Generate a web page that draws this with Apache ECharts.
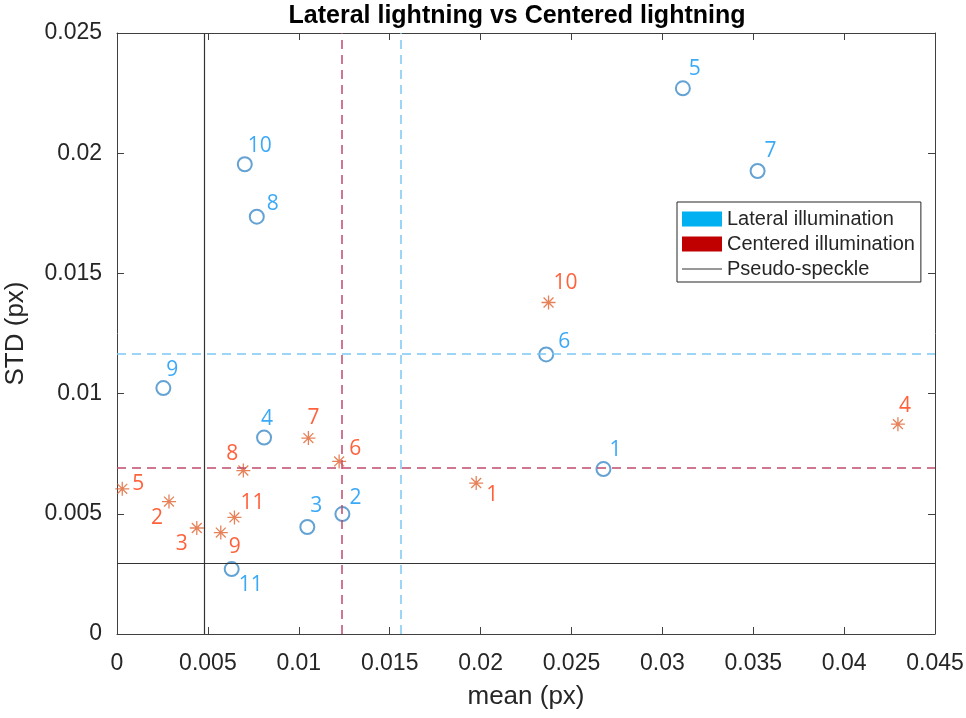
<!DOCTYPE html>
<html>
<head>
<meta charset="utf-8">
<script src="https://cdn.jsdelivr.net/npm/echarts@6/dist/echarts.min.js"></script>
<style>
html,body{margin:0;padding:0;background:#fff;}
#chart{width:966px;height:718px;}
</style>
</head>
<body>
<div id="chart"></div>
<script>
// ---- Data ----
const pointLabels = ['1','2','3','4','5','6','7','8','9','10','11'];
const lateralX   = [0.02676, 0.01240, 0.01047, 0.00809, 0.03113, 0.02361, 0.03524, 0.00769, 0.00255, 0.00703, 0.00631];
const lateralY   = [0.00686, 0.00499, 0.00445, 0.00817, 0.02270, 0.01163, 0.01926, 0.01736, 0.01023, 0.01954, 0.00270];
const centeredX  = [0.01976, 0.00286, 0.00439, 0.04296, 0.00029, 0.01222, 0.01053, 0.00695, 0.00571, 0.02374, 0.00646];
const centeredY  = [0.00628, 0.00551, 0.00441, 0.00873, 0.00604, 0.00718, 0.00815, 0.00680, 0.00422, 0.01379, 0.00485];
const lateralMean   = [0.01560, 0.01165];   // [mean x, mean y]
const centeredMean  = [0.01234, 0.00691];
const pseudoSpeckle = [0.00480, 0.00295];
const xTicks = [0, 0.005, 0.01, 0.015, 0.02, 0.025, 0.03, 0.035, 0.04, 0.045];
const yTicks = [0, 0.005, 0.01, 0.015, 0.02, 0.025];
const seriesNames = ['Lateral illumination', 'Centered illumination', 'Pseudo-speckle'];

// ---- Layout of point labels (pixel offsets from marker) ----
const lateralLabelOffsets  = [[12,-19],[13,-16],[9,-21],[3,-19],[12,-19],[18,-12],[13,-20],[16,-13],[9,-18],[15,-18],[19,16]];
const centeredLabelOffsets = [[16,12],[-12,16],[-15,16],[7,-18],[16,-5],[16,-12],[5,-20],[-11,-17],[14,14],[17,-19],[18,-14]];

const AX = '#262626';
const fmt = v => String(+v.toFixed(3));

function pts(xs, ys, offs) {
  return xs.map((x, i) => ({
    value: [x, ys[i]],
    name: pointLabels[i],
    label: { offset: offs[i] }
  }));
}
const asterisk = 'path://M0,-10L0,10M-10,0L10,0M-7.07,-7.07L7.07,7.07M-7.07,7.07L7.07,-7.07';

const chart = echarts.init(document.getElementById('chart'), null, {renderer: 'canvas'});
const axisCommon = {
  type: 'value',
  axisLine: { show: true, onZero: false, lineStyle: { color: '#404040', width: 1 } },
  axisTick: { show: true, inside: true, length: 7, lineStyle: { color: '#404040', width: 1 } },
  splitLine: { show: false }
};
chart.setOption({
  backgroundColor: '#fff',
  animation: false,
  title: {
    text: 'Lateral lightning vs Centered lightning',
    left: 517, top: 4, padding: 0, textAlign: 'center',
    textStyle: { fontFamily: 'Liberation Sans', fontWeight: 'bold', fontSize: 25, color: '#000' }
  },
  grid: { left: 117, right: 31, top: 33, bottom: 84, containLabel: false, outerBoundsMode: 'none' },
  legend: {
    orient: 'vertical', left: 677, top: 202,
    itemWidth: 40, itemHeight: 15, itemGap: 5,
    padding: [7, 6, 3, 5],
    borderColor: '#262626', borderWidth: 1, backgroundColor: '#fff',
    textStyle: { fontFamily: 'Liberation Sans', fontSize: 20, color: '#262626' },
    data: [
      { name: seriesNames[0], icon: 'rect', itemStyle: { color: '#00B0F0', borderWidth: 0, opacity: 1 } },
      { name: seriesNames[1], icon: 'rect', itemStyle: { color: '#C00000', borderWidth: 0, opacity: 1 } },
      { name: seriesNames[2], icon: 'path://M0,0H40V1.1H0Z', itemStyle: { color: '#333', borderWidth: 0, opacity: 1 } }
    ]
  },
  xAxis: [
    Object.assign({}, axisCommon, {
      position: 'bottom', min: xTicks[0], max: xTicks[xTicks.length-1], interval: xTicks[1]-xTicks[0],
      name: 'mean (px)', nameLocation: 'middle', nameGap: 50,
      nameTextStyle: { fontFamily: 'Liberation Sans', fontSize: 26, color: AX },
      axisLabel: { fontFamily: 'Liberation Sans', fontSize: 23, color: AX, margin: 18, formatter: fmt }
    }),
    Object.assign({}, axisCommon, {
      position: 'top', min: xTicks[0], max: xTicks[xTicks.length-1], interval: xTicks[1]-xTicks[0],
      axisLabel: { show: false }
    })
  ],
  yAxis: [
    Object.assign({}, axisCommon, {
      position: 'left', min: yTicks[0], max: yTicks[yTicks.length-1], interval: yTicks[1]-yTicks[0],
      name: 'STD (px)', nameLocation: 'middle', nameGap: 88,
      nameTextStyle: { fontFamily: 'Liberation Sans', fontSize: 26, color: AX },
      axisLabel: { fontFamily: 'Liberation Sans', fontSize: 23, color: AX, margin: 15, formatter: fmt }
    }),
    Object.assign({}, axisCommon, {
      position: 'right', min: yTicks[0], max: yTicks[yTicks.length-1], interval: yTicks[1]-yTicks[0],
      axisLabel: { show: false }
    })
  ],
  series: [
    {
      name: seriesNames[2], type: 'line', data: [], symbol: 'none',
      lineStyle: { color: '#333', width: 1.2 },
      itemStyle: { color: '#333' },
      z: 1,
      markLine: {
        silent: true, symbol: 'none', precision: 6, label: { show: false },
        lineStyle: { color: '#333', width: 1.2, type: 'solid' },
        data: [{ xAxis: pseudoSpeckle[0] }, { yAxis: pseudoSpeckle[1] }]
      }
    },
    {
      name: seriesNames[0], type: 'scatter',
      symbol: 'emptyCircle', symbolSize: 14,
      itemStyle: { color: '#3D8BC8', borderWidth: 1.5 },
      label: { show: true, position: 'inside', formatter: '{b}', fontFamily: 'Open Sans', fontSize: 21, color: '#0A94F5', align: 'center', verticalAlign: 'middle' },
      data: pts(lateralX, lateralY, lateralLabelOffsets),
      z: 3,
      markLine: {
        silent: true, symbol: 'none', precision: 6, label: { show: false },
        lineStyle: { color: '#7CC8F2', width: 1.5, type: [9, 6] },
        data: [{ xAxis: lateralMean[0] }, { yAxis: lateralMean[1] }]
      }
    },
    {
      name: seriesNames[1], type: 'scatter',
      symbol: asterisk, symbolSize: 14,
      itemStyle: { color: 'none', borderColor: '#E0632F', borderWidth: 1.3 },
      label: { show: true, position: 'inside', formatter: '{b}', fontFamily: 'Open Sans', fontSize: 21, color: '#FF3A0A', align: 'center', verticalAlign: 'middle' },
      data: pts(centeredX, centeredY, centeredLabelOffsets),
      z: 3,
      markLine: {
        silent: true, symbol: 'none', precision: 6, label: { show: false },
        lineStyle: { color: '#C04A6C', width: 1.5, type: [9, 6] },
        data: [{ xAxis: centeredMean[0] }, { yAxis: centeredMean[1] }]
      }
    }
  ]
});
</script>
</body>
</html>
